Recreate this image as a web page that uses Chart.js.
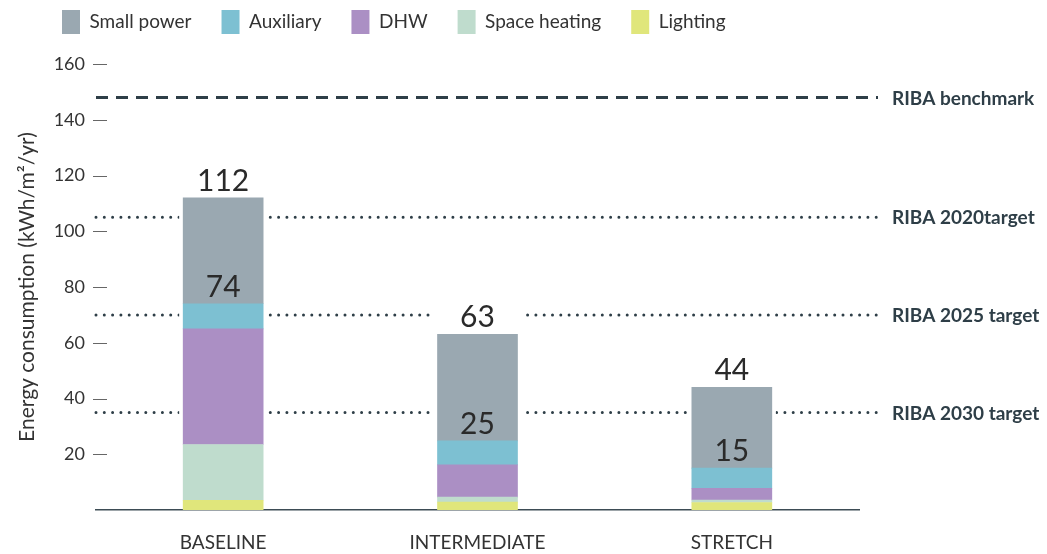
<!DOCTYPE html>
<html>
<head>
<meta charset="utf-8">
<script src="https://cdn.jsdelivr.net/npm/chart.js@4"></script>
<style>
  html, body { margin: 0; padding: 0; background: #fff; }
  #wrap { width: 1047px; height: 554px; }
</style>
</head>
<body>
<div id="wrap"><canvas id="myChart"></canvas></div>
<script>
// data (kWh/m2/yr), stacked bottom to top
const categories = ['BASELINE', 'INTERMEDIATE', 'STRETCH'];
const lighting = [3.5, 2.8, 2.7];
const spaceHeating = [20, 1.8, 0.9];
const dhw = [41.5, 11.6, 4.2];
const auxiliary = [9, 8.6, 7.2];
const smallPower = [38, 38.2, 29];

// y axis ticks
const yTicks = [20, 40, 60, 80, 100, 120, 140, 160];

// RIBA reference lines
const refNames = ['RIBA benchmark', 'RIBA 2020target', 'RIBA 2025 target', 'RIBA 2030 target'];
const refValues = [148, 105, 70, 35];

const dark = '#2e3e47';
const textCol = '#333333';

// makes room under the legend so the plot starts lower
const legendSpace = {
    id: 'legendSpace',
    beforeInit(chart) {
        const fit = chart.legend.fit;
        chart.legend.fit = function() {
            fit.bind(chart.legend)();
            this.height = 84;
        };
    }
};

// draws the tick dashes, reference lines, their labels and bar value labels
const extras = {
    id: 'extras',
    beforeDatasetsDraw(chart) {
        const ctx = chart.ctx;
        const y = chart.scales.y;
        const area = chart.chartArea;
        ctx.save();
        // small dashes next to the y labels
        ctx.strokeStyle = '#666';
        ctx.lineWidth = 1;
        yTicks.forEach(v => {
            const py = Math.round(y.getPixelForValue(v)) + 0.5;
            ctx.beginPath();
            ctx.moveTo(area.left - 3, py);
            ctx.lineTo(area.left + 11, py);
            ctx.stroke();
        });
        // reference lines
        ctx.strokeStyle = dark;
        ctx.lineWidth = 3;
        refValues.forEach((v, i) => {
            const py = y.getPixelForValue(v);
            if (i == 0) {
                ctx.setLineDash([12, 8]);
                ctx.lineCap = 'butt';
            } else {
                ctx.setLineDash([0, 8.3]);
                ctx.lineCap = 'round';
            }
            ctx.beginPath();
            ctx.moveTo(area.left, py);
            ctx.lineTo(area.right + 19, py);
            ctx.stroke();
        });
        ctx.setLineDash([]);
        // white gap round each bar column and its label
        const top = chart.getDatasetMeta(chart.data.datasets.length - 1);
        ctx.fillStyle = '#fff';
        top.data.forEach(bar => {
            ctx.fillRect(bar.x - bar.width / 2 - 4, bar.y - 42, bar.width + 8, area.bottom - bar.y + 41);
        });
        // labels of the reference lines
        ctx.fillStyle = dark;
        ctx.font = 'bold 19px Lato';
        ctx.textBaseline = 'middle';
        ctx.textAlign = 'left';
        refValues.forEach((v, i) => {
            ctx.fillText(refNames[i], area.right + 33, y.getPixelForValue(v) + 1);
        });
        ctx.restore();
    },
    afterDatasetsDraw(chart) {
        const ctx = chart.ctx;
        const y = chart.scales.y;
        ctx.save();
        ctx.fillStyle = '#2a2a2a';
        ctx.font = '30px Lato';
        ctx.textAlign = 'center';
        ctx.textBaseline = 'alphabetic';
        const auxMeta = chart.getDatasetMeta(3);
        const topMeta = chart.getDatasetMeta(4);
        categories.forEach((c, i) => {
            const auxTop = lighting[i] + spaceHeating[i] + dhw[i] + auxiliary[i];
            const total = auxTop + smallPower[i];
            ctx.fillText(Math.round(auxTop), auxMeta.data[i].x, y.getPixelForValue(auxTop) - 7);
            ctx.fillText(Math.round(total), topMeta.data[i].x, y.getPixelForValue(total) - 7);
        });
        ctx.restore();
    }
};

const data = {
    labels: categories,
    datasets: [
        { label: 'Lighting', data: lighting, backgroundColor: '#e0e67b' },
        { label: 'Space heating', data: spaceHeating, backgroundColor: '#bfdccd' },
        { label: 'DHW', data: dhw, backgroundColor: '#ab8fc4' },
        { label: 'Auxiliary', data: auxiliary, backgroundColor: '#7dc0d2' },
        { label: 'Small power', data: smallPower, backgroundColor: '#9aa8b1' }
    ]
};
data.datasets.forEach(ds => {
    ds.barThickness = 80;
    ds.borderWidth = 0;
});

const config = {
    type: 'bar',
    data: data,
    plugins: [legendSpace, extras],
    options: {
        responsive: true,
        maintainAspectRatio: false,
        animation: false,
        events: [],
        layout: { padding: { top: -20, left: 32, right: 188, bottom: 0 } },
        plugins: {
            tooltip: { enabled: false },
            legend: {
                position: 'top',
                align: 'start',
                reverse: true,
                labels: {
                    boxWidth: 18,
                    boxHeight: 24,
                    padding: 30,
                    color: textCol,
                    font: { family: 'Lato', size: 19 }
                }
            }
        },
        scales: {
            x: {
                stacked: true,
                grid: { display: false, drawTicks: false },
                border: { display: true, color: '#3d4c55', width: 1.5 },
                ticks: { color: textCol, padding: 21, font: { family: 'Lato', size: 19 } },
                afterFit(scale) { scale.height = 44; }
            },
            y: {
                stacked: true,
                min: 0,
                max: 160,
                grid: { display: false, drawTicks: false },
                border: { display: false },
                ticks: {
                    stepSize: 20,
                    padding: 11,
                    color: textCol,
                    font: { family: 'Lato', size: 18 },
                    callback: function(value) {
                        return value == 0 ? '' : value;
                    }
                },
                title: {
                    display: true,
                    text: 'Energy consumption (kWh/m²/yr)',
                    color: textCol,
                    font: { family: 'Lato', size: 21 },
                    padding: { top: -17, bottom: 0 }
                },
                afterFit(scale) { scale.width = 64; }
            }
        }
    }
};

const ctx = document.getElementById('myChart').getContext('2d');
const myChart = new Chart(ctx, config);
</script>
</body>
</html>
